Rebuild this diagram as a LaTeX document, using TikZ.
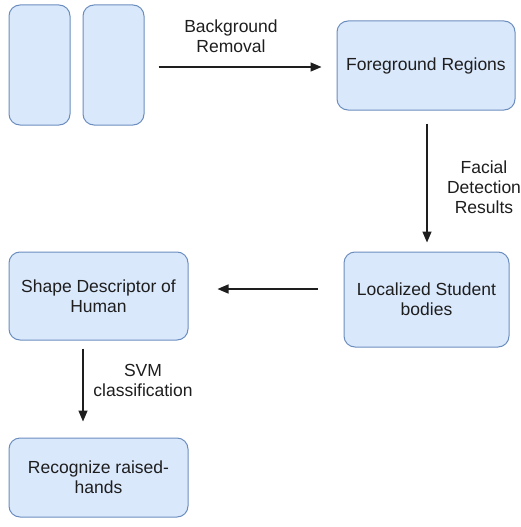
\documentclass[tikz,border=0pt]{standalone}
\usepackage{fontspec}
\setmainfont{Liberation Sans}
\usetikzlibrary{arrows.meta,calc}
\definecolor{boxfill}{HTML}{DAE8FC}
\definecolor{boxline}{HTML}{6C8EBF}
\definecolor{ink}{HTML}{1E1E1E}
\tikzset{
  stage/.style={draw=boxline, fill=boxfill, line width=1pt, rounded corners=11pt,
    inner sep=0pt, align=center, text=ink, font=\fontsize{17.5}{20}\selectfont},
  flow/.style={draw=ink, line width=1.4pt, -{Triangle[length=11pt,width=9pt]}},
  caption/.style={align=center, text=ink, font=\fontsize{17.5}{20}\selectfont}
}
\begin{document}
\begin{tikzpicture}[x=1pt,y=-1pt]
\useasboundingbox (0,0) rectangle (521,527);
\fill[white] (0,0) rectangle (521,527);

% input frames
\node[stage, minimum width=61pt, minimum height=120pt] (f1) at (39.5,65) {};
\node[stage, minimum width=61pt, minimum height=120pt] (f2) at (113.5,65) {};

% processing stages
\node[stage, minimum width=178pt, minimum height=89pt] (fg) at (426,65.5) {Foreground Regions};
\node[stage, minimum width=165pt, minimum height=95pt] (loc) at (426.5,299.5) {Localized Student\\bodies};
\node[stage, minimum width=179pt, minimum height=88pt] (shape) at (98.5,296) {Shape Descriptor of\\Human};
\node[stage, minimum width=179pt, minimum height=79pt] (rec) at (98.5,477.5) {Recognize raised-\\hands};

% connector guides
\coordinate (rowA) at (0,67);
\coordinate (colB) at (427,0);
\coordinate (rowC) at (0,289);
\coordinate (colD) at (83,0);

\draw[flow, shorten <=14pt, shorten >=15pt] (f2.east |- rowA) -- (fg.west |- rowA);
\draw[flow, shorten <=13pt, shorten >=9pt] (fg.south -| colB) -- (loc.north -| colB);
\draw[flow, shorten <=26pt, shorten >=29pt] (loc.west |- rowC) -- (shape.east |- rowC);
\draw[flow, shorten <=8pt, shorten >=16pt] (shape.south -| colD) -- (rec.north -| colD);

% edge captions
\node[caption] (lbg) at (231,36) {Background\\Removal};
\node[caption] (lfd) at (484,187) {Facial\\Detection\\Results};
\node[caption] (lsvm) at (143,380) {SVM\\classification};
\end{tikzpicture}
\end{document}
